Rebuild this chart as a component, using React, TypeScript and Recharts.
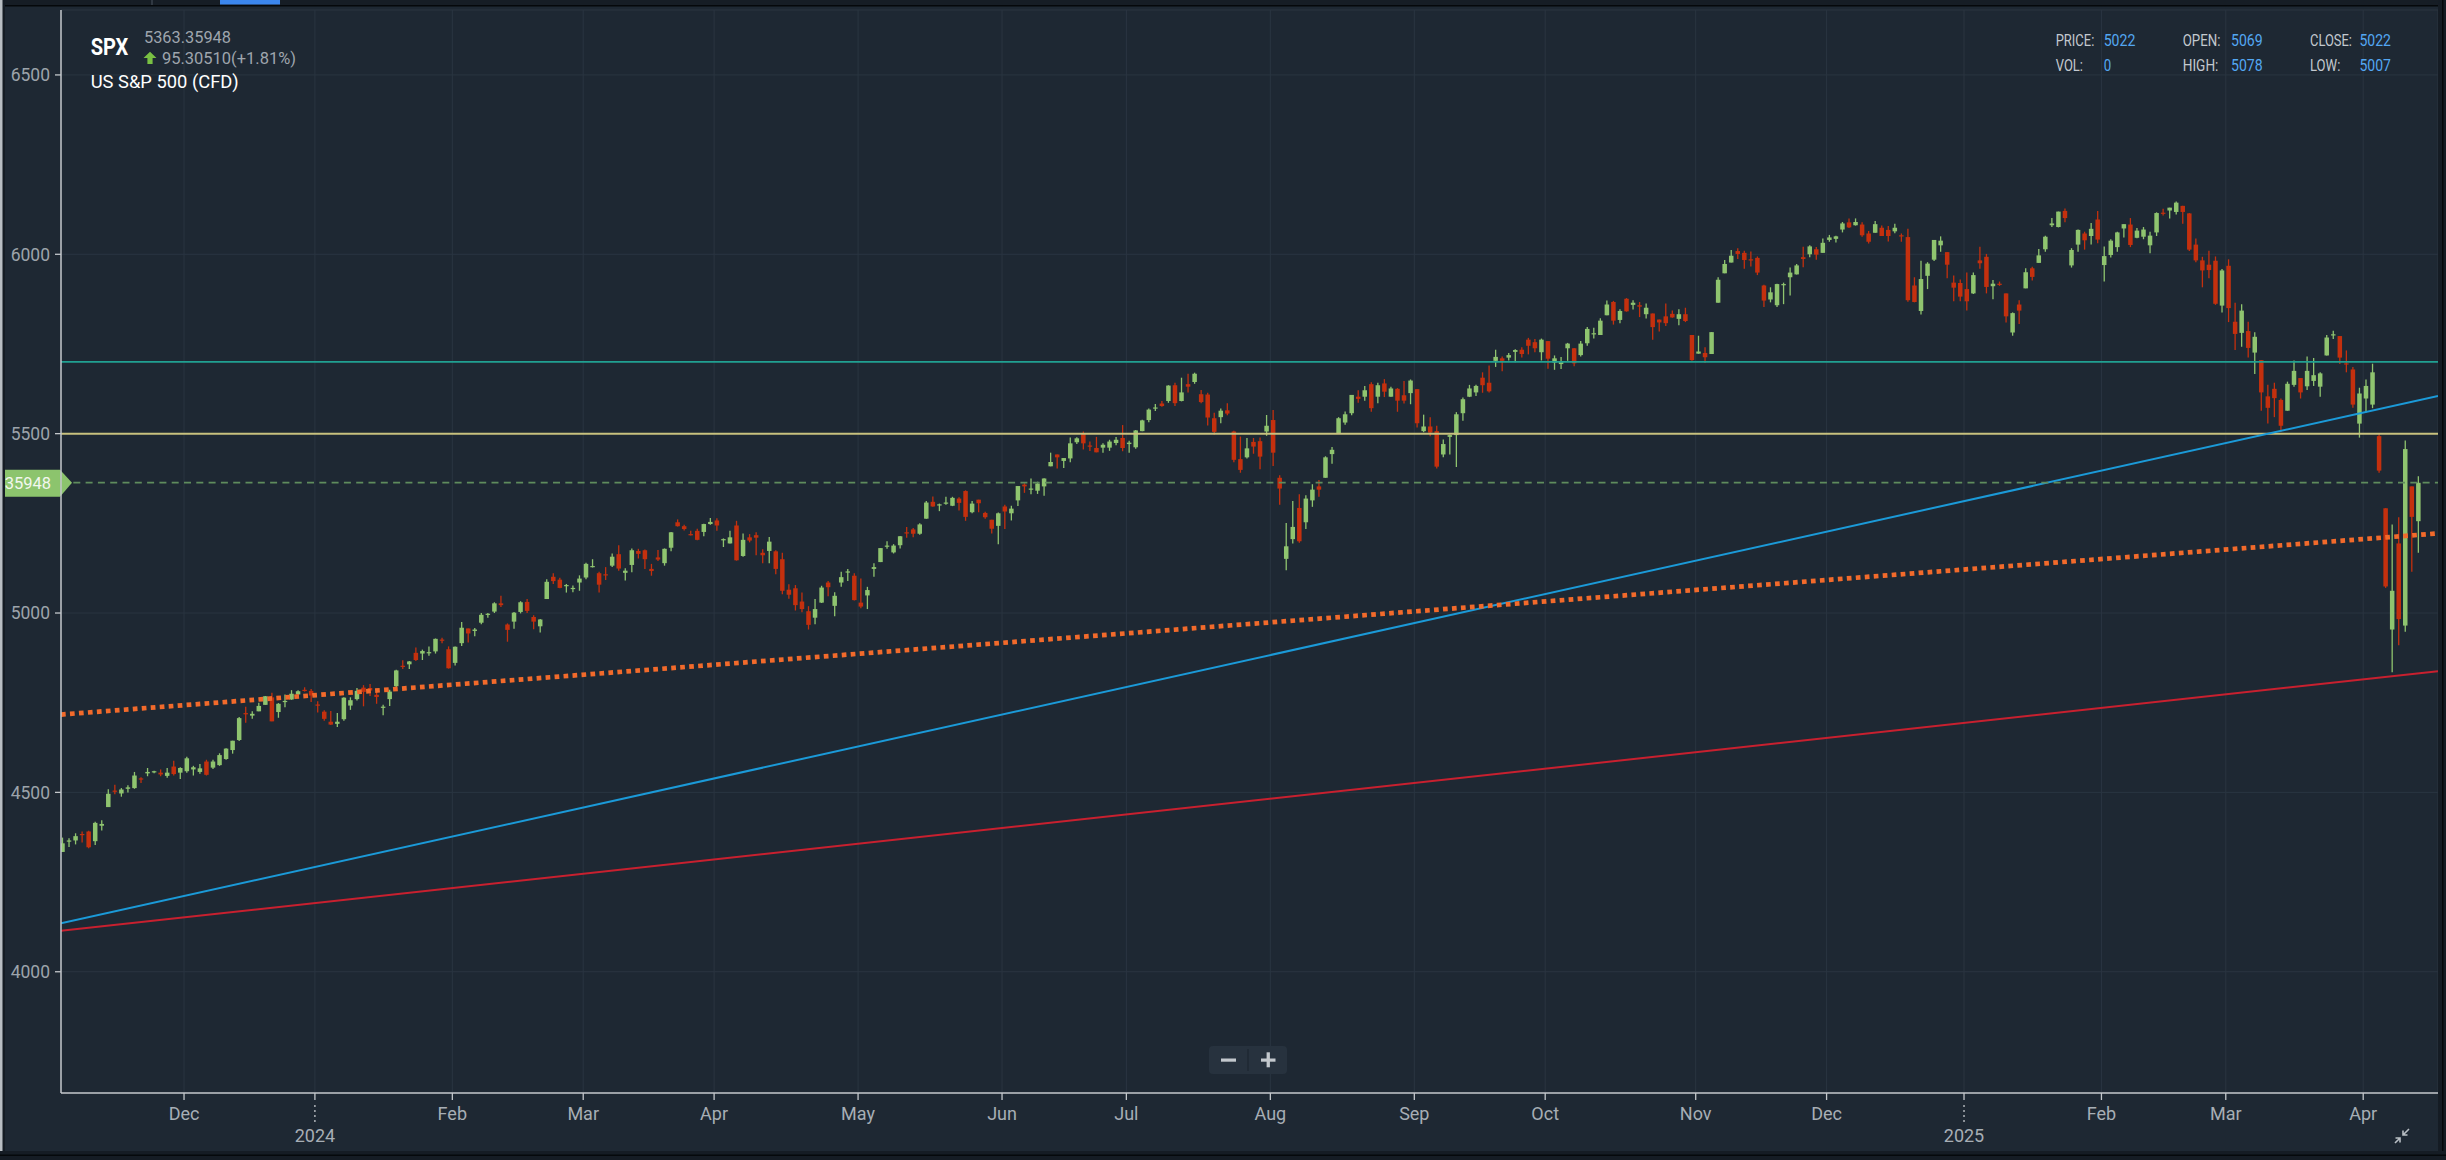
import React from "react";
import { ComposedChart, Bar, XAxis, YAxis, CartesianGrid, ReferenceLine } from "recharts";

// [day, open, high, low, close]
type Row = [number, number, number, number, number];

const NOV_2023: Row[] = [
  [3, 4334, 4374, 4334, 4358], [6, 4364, 4372, 4348, 4366], [7, 4366, 4386, 4355, 4378], [8, 4384, 4391, 4360, 4383],
  [9, 4391, 4393, 4344, 4347], [10, 4364, 4418, 4353, 4415], [13, 4407, 4422, 4394, 4412], [14, 4459, 4509, 4459, 4496],
  [15, 4505, 4521, 4495, 4503], [16, 4497, 4512, 4488, 4508], [17, 4510, 4520, 4500, 4514], [20, 4512, 4557, 4510, 4547],
  [21, 4539, 4542, 4526, 4538], [22, 4553, 4568, 4545, 4557], [24, 4556, 4560, 4553, 4559], [27, 4555, 4564, 4545, 4550],
  [28, 4546, 4568, 4541, 4555], [29, 4572, 4588, 4547, 4551], [30, 4555, 4570, 4537, 4568],
];
const DEC_2023: Row[] = [
  [1, 4559, 4599, 4555, 4595], [4, 4564, 4574, 4547, 4570], [5, 4557, 4579, 4552, 4567], [6, 4586, 4591, 4547, 4549],
  [7, 4569, 4591, 4565, 4586], [8, 4576, 4609, 4574, 4604], [11, 4593, 4623, 4591, 4622], [12, 4618, 4644, 4608, 4644],
  [13, 4646, 4710, 4643, 4707], [14, 4721, 4739, 4694, 4720], [15, 4714, 4726, 4705, 4719], [18, 4726, 4750, 4726, 4741],
  [19, 4744, 4769, 4744, 4768], [20, 4765, 4778, 4698, 4698], [21, 4724, 4749, 4708, 4747], [22, 4754, 4773, 4737, 4755],
  [26, 4759, 4785, 4758, 4775], [27, 4773, 4785, 4769, 4782], [28, 4786, 4793, 4781, 4783], [29, 4783, 4788, 4752, 4770],
];
const JAN_2024: Row[] = [
  [2, 4745, 4754, 4723, 4743], [3, 4725, 4729, 4700, 4705], [4, 4697, 4727, 4688, 4689], [5, 4691, 4721, 4682, 4697],
  [8, 4704, 4765, 4700, 4764], [9, 4742, 4765, 4730, 4757], [10, 4760, 4791, 4756, 4783], [11, 4792, 4799, 4740, 4780],
  [12, 4791, 4802, 4769, 4784], [16, 4772, 4782, 4747, 4766], [17, 4739, 4744, 4715, 4739], [18, 4760, 4786, 4741, 4781],
  [19, 4796, 4842, 4786, 4840], [22, 4853, 4868, 4844, 4850], [23, 4857, 4866, 4844, 4865], [24, 4889, 4904, 4866, 4869],
  [25, 4887, 4898, 4869, 4894], [26, 4889, 4907, 4881, 4891], [29, 4893, 4929, 4887, 4928], [30, 4926, 4931, 4916, 4925],
  [31, 4899, 4907, 4845, 4846],
];
const FEB_2024: Row[] = [
  [1, 4861, 4907, 4854, 4906], [2, 4916, 4975, 4908, 4959], [5, 4957, 4957, 4918, 4943], [6, 4950, 4958, 4935, 4954],
  [7, 4973, 5000, 4969, 4995], [8, 4995, 5000, 4987, 4998], [9, 5004, 5030, 5000, 5027], [12, 5027, 5048, 5017, 5022],
  [13, 4968, 4971, 4920, 4953], [14, 4976, 5003, 4956, 5001], [15, 5003, 5033, 4999, 5030], [16, 5031, 5039, 5000, 5006],
  [20, 4989, 4994, 4955, 4976], [21, 4963, 4983, 4946, 4982], [22, 5039, 5094, 5039, 5087], [23, 5101, 5111, 5081, 5089],
  [26, 5093, 5098, 5069, 5070], [27, 5075, 5081, 5057, 5078], [28, 5067, 5077, 5058, 5070], [29, 5085, 5105, 5062, 5096],
];
const MAR_2024: Row[] = [
  [1, 5099, 5140, 5094, 5137], [4, 5131, 5150, 5127, 5131], [5, 5111, 5115, 5057, 5079], [6, 5108, 5128, 5092, 5105],
  [7, 5132, 5166, 5128, 5157], [8, 5164, 5189, 5118, 5124], [11, 5112, 5125, 5091, 5118], [12, 5134, 5180, 5114, 5175],
  [13, 5173, 5179, 5152, 5165], [14, 5175, 5177, 5123, 5150], [15, 5123, 5137, 5104, 5117], [18, 5155, 5176, 5145, 5149],
  [19, 5139, 5180, 5132, 5179], [20, 5182, 5226, 5172, 5225], [21, 5253, 5261, 5241, 5242], [22, 5242, 5246, 5230, 5234],
  [25, 5220, 5229, 5216, 5218], [26, 5229, 5235, 5203, 5204], [27, 5226, 5249, 5214, 5248], [28, 5248, 5265, 5246, 5254],
];
const APR_2024: Row[] = [
  [1, 5258, 5264, 5229, 5244], [2, 5204, 5208, 5184, 5206], [3, 5194, 5229, 5194, 5211], [4, 5244, 5257, 5146, 5147],
  [5, 5159, 5222, 5157, 5204], [8, 5211, 5220, 5197, 5202], [9, 5217, 5225, 5161, 5210], [10, 5168, 5178, 5139, 5161],
  [11, 5173, 5212, 5139, 5199], [12, 5172, 5175, 5108, 5123], [15, 5150, 5168, 5052, 5062], [16, 5065, 5080, 5040, 5051],
  [17, 5069, 5078, 5007, 5022], [18, 5032, 5057, 5002, 5011], [19, 5005, 5019, 4954, 4967], [22, 4987, 5039, 4969, 5011],
  [23, 5029, 5076, 5028, 5071], [24, 5085, 5089, 5047, 5072], [25, 5020, 5058, 4991, 5048], [26, 5085, 5115, 5073, 5100],
  [29, 5114, 5123, 5089, 5116], [30, 5104, 5111, 5035, 5036],
];
const MAY_2024: Row[] = [
  [1, 5029, 5096, 5013, 5018], [2, 5049, 5073, 5011, 5064], [3, 5123, 5139, 5101, 5128], [6, 5142, 5181, 5142, 5181],
  [7, 5187, 5200, 5179, 5188], [8, 5169, 5192, 5166, 5188], [9, 5189, 5215, 5180, 5214], [10, 5225, 5240, 5210, 5223],
  [13, 5233, 5237, 5211, 5221], [14, 5221, 5250, 5218, 5247], [15, 5263, 5312, 5263, 5308], [16, 5310, 5325, 5296, 5297],
  [17, 5303, 5305, 5284, 5303], [20, 5305, 5324, 5302, 5308], [21, 5299, 5324, 5298, 5321], [22, 5319, 5323, 5286, 5307],
  [23, 5340, 5342, 5257, 5268], [24, 5281, 5312, 5278, 5305], [28, 5316, 5316, 5281, 5306], [29, 5279, 5282, 5263, 5267],
  [30, 5260, 5260, 5222, 5235], [31, 5243, 5280, 5192, 5278],
];
const JUN_2024: Row[] = [
  [3, 5297, 5302, 5234, 5283], [4, 5278, 5299, 5258, 5291], [5, 5314, 5354, 5298, 5354], [6, 5358, 5362, 5335, 5353],
  [7, 5344, 5375, 5331, 5347], [10, 5341, 5366, 5332, 5361], [11, 5353, 5376, 5327, 5375], [12, 5409, 5447, 5409, 5421],
  [13, 5442, 5442, 5403, 5434], [14, 5424, 5432, 5404, 5432], [17, 5431, 5489, 5420, 5473], [18, 5476, 5490, 5471, 5487],
  [20, 5500, 5506, 5456, 5473], [21, 5467, 5478, 5452, 5465], [24, 5460, 5491, 5448, 5448], [25, 5461, 5473, 5447, 5469],
  [26, 5461, 5483, 5452, 5478], [27, 5474, 5491, 5468, 5483], [28, 5488, 5524, 5451, 5460],
];
const JUL_2024: Row[] = [
  [1, 5471, 5480, 5447, 5475], [2, 5462, 5510, 5458, 5509], [3, 5507, 5539, 5507, 5537], [5, 5538, 5570, 5532, 5567],
  [8, 5573, 5583, 5563, 5573], [9, 5584, 5591, 5575, 5577], [10, 5591, 5635, 5586, 5634], [11, 5635, 5642, 5577, 5585],
  [12, 5591, 5656, 5590, 5615], [15, 5638, 5667, 5615, 5631], [16, 5644, 5670, 5639, 5667], [17, 5610, 5622, 5585, 5588],
  [18, 5609, 5614, 5523, 5545], [19, 5543, 5558, 5497, 5505], [22, 5546, 5570, 5529, 5564], [23, 5565, 5585, 5551, 5556],
  [24, 5506, 5508, 5420, 5427], [25, 5429, 5492, 5391, 5399], [26, 5434, 5488, 5431, 5459], [29, 5477, 5488, 5444, 5464],
  [30, 5479, 5489, 5401, 5436], [31, 5506, 5552, 5494, 5522],
];
const AUG_2024: Row[] = [
  [1, 5538, 5566, 5410, 5447], [2, 5377, 5384, 5302, 5347], [5, 5151, 5251, 5119, 5186], [6, 5206, 5312, 5194, 5240],
  [7, 5293, 5331, 5196, 5200], [8, 5253, 5328, 5234, 5319], [9, 5314, 5359, 5296, 5344], [12, 5353, 5371, 5324, 5344],
  [13, 5377, 5437, 5377, 5434], [14, 5443, 5463, 5416, 5455], [15, 5501, 5546, 5501, 5543], [16, 5531, 5562, 5525, 5554],
  [19, 5557, 5608, 5551, 5608], [20, 5603, 5621, 5586, 5597], [21, 5603, 5633, 5592, 5621], [22, 5638, 5643, 5561, 5571],
  [23, 5603, 5642, 5585, 5635], [26, 5640, 5652, 5602, 5617], [27, 5603, 5631, 5603, 5626], [28, 5625, 5627, 5561, 5592],
  [29, 5607, 5647, 5584, 5592], [30, 5613, 5651, 5582, 5648],
];
const SEP_2024: Row[] = [
  [3, 5624, 5624, 5517, 5529], [4, 5507, 5553, 5504, 5520], [5, 5520, 5546, 5493, 5503], [6, 5507, 5522, 5403, 5408],
  [9, 5442, 5484, 5434, 5471], [10, 5491, 5498, 5442, 5496], [11, 5496, 5560, 5407, 5554], [12, 5557, 5601, 5536, 5596],
  [13, 5603, 5636, 5602, 5626], [16, 5615, 5636, 5605, 5633], [17, 5656, 5671, 5614, 5635], [18, 5642, 5690, 5615, 5618],
  [19, 5703, 5734, 5686, 5714], [20, 5710, 5715, 5674, 5703], [23, 5712, 5725, 5704, 5719], [24, 5728, 5735, 5699, 5733],
  [25, 5734, 5741, 5712, 5722], [26, 5762, 5767, 5721, 5745], [27, 5755, 5764, 5727, 5738], [30, 5727, 5765, 5704, 5762],
];
const OCT_2024: Row[] = [
  [1, 5758, 5758, 5681, 5709], [2, 5698, 5718, 5678, 5710], [3, 5694, 5714, 5680, 5700], [4, 5738, 5753, 5703, 5751],
  [7, 5738, 5739, 5688, 5696], [8, 5719, 5758, 5715, 5751], [9, 5752, 5797, 5745, 5792], [10, 5778, 5795, 5765, 5780],
  [11, 5775, 5822, 5775, 5815], [14, 5830, 5871, 5830, 5860], [15, 5867, 5870, 5804, 5815], [16, 5817, 5847, 5808, 5842],
  [17, 5876, 5878, 5840, 5841], [18, 5859, 5872, 5846, 5865], [21, 5858, 5867, 5825, 5854], [22, 5833, 5863, 5821, 5851],
  [23, 5835, 5835, 5762, 5797], [24, 5818, 5818, 5785, 5810], [25, 5827, 5863, 5800, 5808], [28, 5834, 5843, 5823, 5824],
  [29, 5820, 5847, 5802, 5833], [30, 5833, 5851, 5811, 5814], [31, 5775, 5775, 5703, 5705],
];
const NOV_2024: Row[] = [
  [1, 5723, 5773, 5723, 5729], [4, 5725, 5741, 5697, 5713], [5, 5722, 5783, 5722, 5783], [6, 5865, 5936, 5865, 5929],
  [7, 5947, 5984, 5947, 5973], [8, 5977, 6012, 5977, 5996], [11, 6009, 6017, 5987, 6001], [12, 6004, 6010, 5960, 5984],
  [13, 5986, 6008, 5966, 5985], [14, 5990, 5994, 5942, 5949], [15, 5913, 5915, 5853, 5871], [18, 5874, 5908, 5866, 5894],
  [19, 5858, 5918, 5853, 5917], [20, 5915, 5921, 5861, 5917], [21, 5936, 5963, 5885, 5949], [22, 5944, 5973, 5944, 5969],
  [25, 5992, 6021, 5964, 5987], [26, 6000, 6025, 5992, 6022], [27, 6014, 6020, 5985, 5999], [29, 6004, 6044, 6004, 6032],
];
const DEC_2024: Row[] = [
  [2, 6040, 6054, 6035, 6047], [3, 6043, 6052, 6033, 6050], [4, 6069, 6090, 6061, 6086], [5, 6089, 6100, 6073, 6075],
  [6, 6081, 6100, 6080, 6090], [9, 6083, 6089, 6049, 6053], [10, 6058, 6065, 6030, 6035], [11, 6060, 6093, 6060, 6084],
  [12, 6074, 6080, 6051, 6051], [13, 6068, 6079, 6036, 6051], [16, 6064, 6085, 6059, 6074], [17, 6053, 6058, 6035, 6051],
  [18, 6048, 6071, 5868, 5872], [19, 5913, 5936, 5866, 5867], [20, 5842, 5982, 5832, 5931], [23, 5940, 5978, 5903, 5974],
  [24, 5985, 6040, 5981, 6040], [26, 6025, 6050, 6007, 6038], [27, 6006, 6006, 5933, 5971], [30, 5921, 5941, 5869, 5907],
  [31, 5920, 5930, 5869, 5882],
];
const JAN_2025: Row[] = [
  [2, 5903, 5949, 5843, 5869], [3, 5891, 5949, 5889, 5942], [6, 5983, 6021, 5960, 5975], [7, 5993, 6001, 5891, 5909],
  [8, 5911, 5928, 5875, 5918], [9, 5918, 5924, 5912, 5917], [10, 5891, 5891, 5810, 5827], [13, 5782, 5838, 5773, 5836],
  [14, 5860, 5872, 5806, 5843], [15, 5905, 5961, 5905, 5950], [16, 5961, 5965, 5927, 5937], [17, 5976, 6015, 5976, 5997],
  [21, 6014, 6052, 6007, 6049], [22, 6081, 6101, 6076, 6086], [23, 6076, 6119, 6075, 6119], [24, 6121, 6128, 6089, 6101],
  [27, 5969, 6017, 5963, 6012], [28, 6027, 6069, 6007, 6068], [29, 6058, 6063, 6013, 6039], [30, 6051, 6087, 6027, 6071],
  [31, 6097, 6121, 6031, 6041],
];
const FEB_2025: Row[] = [
  [3, 5970, 6022, 5924, 5995], [4, 5998, 6042, 5991, 6038], [5, 6020, 6063, 6007, 6061], [6, 6072, 6084, 6047, 6084],
  [7, 6083, 6101, 6020, 6026], [10, 6046, 6073, 6045, 6066], [11, 6049, 6076, 6042, 6069], [12, 6025, 6063, 6003, 6052],
  [13, 6061, 6117, 6051, 6115], [14, 6116, 6127, 6108, 6115], [18, 6122, 6130, 6100, 6130], [19, 6118, 6147, 6111, 6144],
  [20, 6135, 6135, 6085, 6118], [21, 6114, 6115, 6009, 6013], [24, 6027, 6044, 5978, 5983], [25, 5983, 5993, 5908, 5955],
  [26, 5971, 6010, 5933, 5956], [27, 5982, 5994, 5859, 5862], [28, 5857, 5959, 5838, 5955],
];
const MAR_2025: Row[] = [
  [3, 5968, 5986, 5811, 5850], [4, 5812, 5865, 5733, 5778], [5, 5781, 5861, 5742, 5843], [6, 5786, 5812, 5712, 5739],
  [7, 5726, 5783, 5666, 5770], [10, 5705, 5705, 5564, 5615], [11, 5604, 5636, 5528, 5572], [12, 5625, 5642, 5546, 5599],
  [13, 5594, 5598, 5505, 5522], [14, 5564, 5645, 5564, 5639], [17, 5636, 5704, 5631, 5675], [18, 5655, 5655, 5598, 5615],
  [19, 5632, 5715, 5622, 5675], [20, 5647, 5711, 5633, 5663], [21, 5631, 5671, 5603, 5668], [24, 5718, 5775, 5718, 5768],
  [25, 5776, 5787, 5764, 5777], [26, 5772, 5772, 5694, 5712], [27, 5696, 5732, 5671, 5693], [28, 5679, 5686, 5572, 5581],
  [31, 5528, 5628, 5489, 5612],
];
const APR_2025: Row[] = [
  [1, 5598, 5651, 5559, 5633], [2, 5581, 5695, 5571, 5671], [3, 5493, 5500, 5391, 5397], [4, 5292, 5292, 5070, 5074],
  [7, 4954, 5247, 4835, 5062], [8, 5194, 5267, 4910, 4983], [9, 4965, 5481, 4948, 5457], [10, 5353, 5353, 5115, 5268],
  [11, 5256, 5381, 5168, 5363],
];

const MONTH_BLOCKS = [
  { year: 2023, month: 11, rows: NOV_2023 }, { year: 2023, month: 12, rows: DEC_2023 },
  { year: 2024, month: 1, rows: JAN_2024 }, { year: 2024, month: 2, rows: FEB_2024 },
  { year: 2024, month: 3, rows: MAR_2024 }, { year: 2024, month: 4, rows: APR_2024 },
  { year: 2024, month: 5, rows: MAY_2024 }, { year: 2024, month: 6, rows: JUN_2024 },
  { year: 2024, month: 7, rows: JUL_2024 }, { year: 2024, month: 8, rows: AUG_2024 },
  { year: 2024, month: 9, rows: SEP_2024 }, { year: 2024, month: 10, rows: OCT_2024 },
  { year: 2024, month: 11, rows: NOV_2024 }, { year: 2024, month: 12, rows: DEC_2024 },
  { year: 2025, month: 1, rows: JAN_2025 }, { year: 2025, month: 2, rows: FEB_2025 },
  { year: 2025, month: 3, rows: MAR_2025 }, { year: 2025, month: 4, rows: APR_2025 },
];

const X_TICK_LABELS = ["Dec", "2024", "Feb", "Mar", "Apr", "May", "Jun", "Jul", "Aug", "Sep", "Oct", "Nov", "Dec", "2025", "Feb", "Mar", "Apr"];
const Y_TICKS = [4000, 4500, 5000, 5500, 6000, 6500];
const Y_DOMAIN = [3662, 6681];
const X_DOMAIN = [-0.23, 363.0];

// trend lines: value at left edge and right edge of the visible range
const TREND_BLUE = [4135, 5605];
const TREND_RED = [4114, 4838];
const TREND_ORANGE = [4717, 5222];
const LEVEL_TEAL = 5700;
const LEVEL_KHAKI = 5500;
const LAST_PRICE = 5363.35948;

const SYMBOL = "SPX";
const NAME = "US S&P 500 (CFD)";
const PRICE_TEXT = "5363.35948";
const CHANGE_TEXT = "95.30510(+1.81%)";
const INFO_LABELS = ["PRICE:", "VOL:", "OPEN:", "HIGH:", "CLOSE:", "LOW:"];
const INFO_VALUES = ["5022", "0", "5069", "5078", "5022", "5007"];

const GREEN = "#8fc46f";
const RED = "#c4300e";
const BG = "#1e2833";
const GRID = "#2a3541";
const AXIS = "#c3c7cb";
const FONT = "Roboto, 'Noto Sans', sans-serif";

const DATA = MONTH_BLOCKS.flatMap((b) =>
  b.rows.map((r) => ({ year: b.year, month: b.month, day: r[0], open: r[1], high: r[2], low: r[3], close: r[4] }))
).map((o, i) => ({ ...o, i, range: [o.low, o.high] }));

const TICK_VALUES = MONTH_BLOCKS.slice(1).map(
  (b) => DATA.findIndex((d) => d.year === b.year && d.month === b.month) - 0.43
);

const Candle = (props: any) => {
  const { x, y, width, height, payload } = props;
  if (x == null || y == null || !payload) return null;
  const { open, high, low, close } = payload;
  const color = close >= open ? GREEN : RED;
  const top0 = Math.min(y, y + height);
  const h = Math.abs(height);
  const k = high - low > 0 ? h / (high - low) : 0;
  const yO = top0 + (high - open) * k;
  const yC = top0 + (high - close) * k;
  const bt = Math.min(yO, yC);
  const bh = Math.max(Math.abs(yO - yC), 1.2);
  const cx = x + width / 2;
  return (
    <g>
      <line x1={cx} x2={cx} y1={top0} y2={top0 + h} stroke={color} strokeWidth={1.3} />
      <rect x={x} y={bt} width={width} height={bh} fill={color} />
    </g>
  );
};

const MonthTick = (props: any) => {
  const { x, y, payload } = props;
  const k = TICK_VALUES.findIndex((v) => Math.abs(v - payload.value) < 1e-6);
  const label = X_TICK_LABELS[k] ?? "";
  const isYear = /^\d{4}$/.test(label);
  if (isYear) {
    return (
      <g>
        <line x1={x} x2={x} y1={y + 3} y2={y + 21} stroke={AXIS} strokeWidth={1.3} strokeDasharray="2 3" />
        <text x={x} y={y + 40} textAnchor="middle" fill="#a7aeb5" fontSize={18} fontFamily={FONT}>{label}</text>
      </g>
    );
  }
  return (
    <text x={x} y={y + 18} textAnchor="middle" fill="#a7aeb5" fontSize={18} fontFamily={FONT}>{label}</text>
  );
};

const PriceBadge = (props: any) => {
  const vb = props.viewBox || {};
  const x = vb.x ?? 61;
  const y = vb.y ?? 0;
  return (
    <g>
      <polygon
        points={`${x - 90},${y - 13} ${x - 1},${y - 13} ${x + 11},${y} ${x - 1},${y + 14} ${x - 90},${y + 14}`}
        fill="#8cc46d"
      />
      <text x={x - 10} y={y + 6.5} textAnchor="end" fill="#f2f7ee" fontSize={16.5} fontFamily={FONT}>{PRICE_TEXT}</text>
    </g>
  );
};

const T = (p: any) => (
  <text
    x={p.x}
    y={p.y}
    fill={p.fill}
    fontSize={p.size}
    fontWeight={p.weight || 400}
    fontFamily={FONT}
    textLength={p.w}
    lengthAdjust="spacingAndGlyphs"
  >
    {p.children}
  </text>
);

const INFO_POS = [
  { lx: 2055.7, vx: 2103.7, y: 45.7, lw: 38.6, vw: 31.7 },
  { lx: 2055.7, vx: 2103.7, y: 70.7, lw: 27.3, vw: 7.5 },
  { lx: 2182.7, vx: 2231, y: 45.7, lw: 37.7, vw: 31.7 },
  { lx: 2182.7, vx: 2231, y: 70.7, lw: 35.7, vw: 31.7 },
  { lx: 2310, vx: 2359.5, y: 45.7, lw: 42, vw: 31.5 },
  { lx: 2310, vx: 2359.5, y: 70.7, lw: 30.3, vw: 31.5 },
];

export default function App() {
  return (
    <div style={{ position: "absolute", left: 0, top: 0, width: 2446, height: 1160, background: BG, overflow: "hidden" }}>
      <ComposedChart
        width={2446}
        height={1160}
        data={DATA}
        margin={{ top: 10, right: 8, left: 0, bottom: 0 }}
      >
        <CartesianGrid stroke={GRID} strokeWidth={1} />
        <XAxis
          dataKey="i"
          type="number"
          domain={X_DOMAIN}
          allowDataOverflow
          ticks={TICK_VALUES}
          interval={0}
          height={67}
          tickSize={7}
          tickMargin={2}
          tickLine={{ stroke: AXIS, strokeWidth: 1.3 }}
          axisLine={{ stroke: AXIS, strokeWidth: 1.5 }}
          tick={<MonthTick />}
        />
        <YAxis
          type="number"
          domain={Y_DOMAIN}
          allowDataOverflow
          ticks={Y_TICKS}
          width={61}
          tickSize={6}
          tickMargin={5}
          tickLine={{ stroke: AXIS, strokeWidth: 1.3 }}
          axisLine={{ stroke: AXIS, strokeWidth: 1.5 }}
          tick={{ fill: "#9da4ab", fontSize: 17.5, fontFamily: FONT }}
        />
        <Bar dataKey="range" barSize={4.5} shape={(p: any) => <Candle {...p} />} isAnimationActive={false} />
        <ReferenceLine y={LEVEL_TEAL} stroke="#21a092" strokeWidth={1.6} />
        <ReferenceLine y={LEVEL_KHAKI} stroke="#c8c17e" strokeWidth={2} />
        <ReferenceLine
          segment={[{ x: X_DOMAIN[0], y: TREND_BLUE[0] }, { x: X_DOMAIN[1], y: TREND_BLUE[1] }]}
          stroke="#1b9ad8"
          strokeWidth={2}
          ifOverflow="hidden"
        />
        <ReferenceLine
          segment={[{ x: X_DOMAIN[0], y: TREND_RED[0] }, { x: X_DOMAIN[1], y: TREND_RED[1] }]}
          stroke="#c8202f"
          strokeWidth={2}
          ifOverflow="hidden"
        />
        <ReferenceLine
          segment={[{ x: X_DOMAIN[0], y: TREND_ORANGE[0] }, { x: X_DOMAIN[1], y: TREND_ORANGE[1] }]}
          stroke="#f26a2b"
          strokeWidth={4.7}
          strokeDasharray="4.7 4.3"
          ifOverflow="hidden"
        />
        <ReferenceLine
          y={LAST_PRICE}
          stroke="#5f8c5d"
          strokeWidth={1.7}
          strokeDasharray="7 5.3"
          label={<PriceBadge />}
        />
      </ComposedChart>

      <svg
        width={2446}
        height={1160}
        style={{ position: "absolute", left: 0, top: 0, pointerEvents: "none" }}
      >
        {/* header left */}
        <T x={90.7} y={55} fill="#ffffff" size={23} weight={700} w={37.6}>{SYMBOL}</T>
        <T x={144} y={42.7} fill="#9ea5ad" size={16} w={87}>{PRICE_TEXT}</T>
        <polygon points="150,51.7 156.5,58 152.6,58 152.6,64 147.4,64 147.4,58 143.5,58" fill="#79c043" />
        <T x={162} y={63.6} fill="#9ea5ad" size={16} w={134}>{CHANGE_TEXT}</T>
        <T x={90.7} y={88.3} fill="#ffffff" size={18} w={148}>{NAME}</T>

        {/* header right */}
        {INFO_LABELS.map((l, k) => (
          <g key={l}>
            <T x={INFO_POS[k].lx} y={INFO_POS[k].y} fill="#c3c9cf" size={17} w={INFO_POS[k].lw}>{l}</T>
            <T x={INFO_POS[k].vx} y={INFO_POS[k].y} fill="#53a7f2" size={17} w={INFO_POS[k].vw}>{INFO_VALUES[k]}</T>
          </g>
        ))}

        {/* zoom control */}
        <rect x={1209} y={1046} width={78} height={28} rx={4} fill="#27323e" />
        <line x1={1248} x2={1248} y1={1049} y2={1071} stroke="#1f2833" strokeWidth={1.5} />
        <rect x={1221} y={1058.5} width={15} height={3.2} fill="#c3c8cd" />
        <rect x={1261} y={1058.5} width={14.5} height={3.2} fill="#c3c8cd" />
        <rect x={1266.6} y={1052.3} width={3.3} height={15} fill="#c3c8cd" />

        {/* compress icon */}
        <g stroke="#b8bec4" strokeWidth={1.6} fill="none">
          <path d="M2409,1129 L2403,1135 M2403,1130.5 L2403,1135 L2407.5,1135" />
          <path d="M2395,1143 L2400,1138 M2395.5,1138 L2400,1138 L2400,1142.5" />
        </g>

        {/* frame */}
        <rect x={0} y={0} width={2446} height={6} fill="#161d25" />
        <rect x={0} y={5} width={2446} height={1.5} fill="#05080b" />
        <rect x={220} y={0} width={60} height={4.5} fill="#3b86ee" />
        <rect x={151.5} y={0} width={1} height={5} fill="#4a5560" />
        <rect x={0} y={0} width={5} height={1160} fill="#151c24" />
        <rect x={0} y={0} width={2.5} height={1160} fill="#b9bec3" />
        <rect x={2438} y={0} width={8} height={1160} fill="#151c24" />
        <rect x={2442} y={0} width={1.5} height={1160} fill="#05080b" />
        <rect x={0} y={1151} width={2446} height={9} fill="#151c24" />
        <rect x={0} y={1154.5} width={2446} height={1.5} fill="#05080b" />
      </svg>
    </div>
  );
}
